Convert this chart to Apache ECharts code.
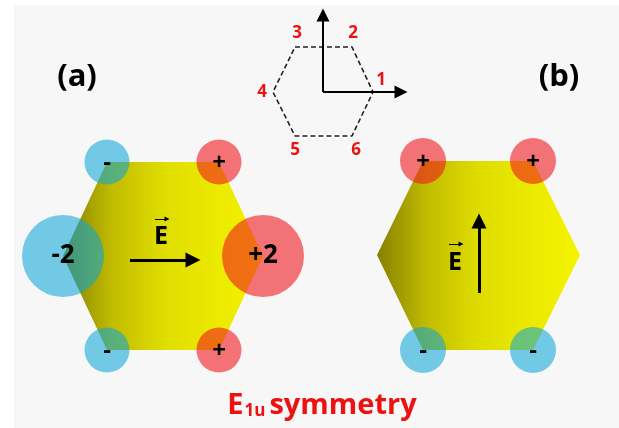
<!DOCTYPE html>
<html><head><meta charset="utf-8">
<script src="https://cdn.jsdelivr.net/npm/echarts@6/dist/echarts.min.js"></script>
<style>html,body{margin:0;padding:0;background:#fff}#c{width:619px;height:428px}</style>
</head><body><div id="c"></div>
<script>
// ---- data (diagram coordinates) ----
const hexA = [[107,162],[219,162],[263,256],[219,350],[107,350],[63,256]];
const hexB = [[423,161],[533,161],[580,255],[533,350],[423,350],[377,255]];
const hexagons = [hexA, hexB];

const refHex = [[295,47],[352,47],[373,92],[352,136],[295,136],[273,92],[295,47]];
const refLabels = ['1','2','3','4','5','6'];
const refLabelX = [381,353,297,262,295,356];
const refLabelY = [80,33,33,92,150,150];

const chargeX = [107,219,63,263,107,219,423,533,423,533];
const chargeY = [162,162,256,256,350,350,161,161,350,350];
const chargeR = [22.5,22.5,41,41,22.5,22.5,23,23,23,23];
const chargeText = ['-','+','-2','+2','-','+','+','+','-','-'];

const fieldFrom = [[130,260],[479,293]];
const fieldTo = [[193,260],[479,221]];
const axisFrom = [[323,92],[323,92]];
const axisTo = [[323,15],[401,92]];
const vecFrom = [[155,219],[449,244]];
const vecTo = [[167,219],[461,244]];

const fieldLabels = ['E','E'];
const fieldLabelX = [161,455];
const fieldLabelY = [237,263];

const panelLabels = ['(a)','(b)'];
const panelX = [77,559];
const panelY = [77,77];

const titleParts = ['E','1u','symmetry'];
const titleX = 322, titleY = 402;

const FONT = '"Open Sans", "Noto Sans", sans-serif';
const RED = '#ee1111';

const chart = echarts.init(document.getElementById('c'));
chart.setOption({
  backgroundColor: '#ffffff',
  animation: false,
  grid: {left: 14, top: 5, right: 0, bottom: 0, show: true, backgroundColor: '#f7f7f7', borderWidth: 0},
  xAxis: {type: 'value', min: 14, max: 619, show: false},
  yAxis: {type: 'value', min: 5, max: 428, inverse: true, show: false},
  series: [
    {
      type: 'custom', z: 1,
      data: hexagons.map(h => [h[0][0], h[0][1]]),
      renderItem: (params, api) => {
        const pts = hexagons[params.dataIndex].map(p => api.coord(p));
        return {type: 'polygon', shape: {points: pts},
          style: {fill: new echarts.graphic.LinearGradient(0,0,1,0,[
            {offset:0,color:'#858000'},{offset:0.25,color:'#c2bd00'},
            {offset:0.5,color:'#dfdc00'},{offset:0.75,color:'#ebe900'},{offset:1,color:'#f4f400'}])}};
      }
    },
    {
      type: 'line', z: 2, data: refHex, symbol: 'none', silent: true,
      lineStyle: {type: [5,3], width: 1.6, color: '#222'}
    },
    {
      type: 'custom', z: 3,
      data: chargeX.map((x,i) => [x, chargeY[i], chargeR[i]]),
      renderItem: (params, api) => {
        const c = api.coord([api.value(0), api.value(1)]);
        const r = api.size([api.value(2), 0])[0];
        const t = chargeText[params.dataIndex];
        const pos = t[0] === '+';
        const big = t.length > 1;
        return {type: 'group', children: [
          {type: 'circle', shape: {cx: c[0], cy: c[1], r: r},
            style: {fill: pos ? 'rgba(238,25,30,0.6)' : 'rgba(10,165,215,0.57)'}},
          {type: 'text', x: c[0], y: c[1] + (big ? 0 : 1), z2: 10,
            style: {text: t, fill: '#000', font: 'bold ' + (big ? 26 : 24) + 'px ' + FONT,
              align: 'center', verticalAlign: 'middle'}}
        ]};
      }
    },
    {
      type: 'lines', coordinateSystem: 'cartesian2d', z: 4, silent: true,
      symbol: ['none','triangle'], symbolSize: [13,15],
      lineStyle: {color: '#000', width: 3, opacity: 1},
      data: fieldFrom.map((f,i) => ({coords: [f, fieldTo[i]]}))
    },
    {
      type: 'lines', coordinateSystem: 'cartesian2d', z: 4, silent: true,
      symbol: ['none','triangle'], symbolSize: [11,13],
      lineStyle: {color: '#000', width: 2, opacity: 1},
      data: axisFrom.map((f,i) => ({coords: [f, axisTo[i]]}))
    },
    {
      type: 'lines', coordinateSystem: 'cartesian2d', z: 4, silent: true,
      symbol: ['none','triangle'], symbolSize: [4,5],
      lineStyle: {color: '#000', width: 1, opacity: 1},
      data: vecFrom.map((f,i) => ({coords: [f, vecTo[i]]}))
    },
    {
      type: 'custom', z: 5,
      data: refLabels.map((l,i) => [refLabelX[i], refLabelY[i]]),
      renderItem: (params, api) => {
        const c = api.coord([api.value(0), api.value(1)]);
        return {type: 'text', x: c[0], y: c[1], style: {text: refLabels[params.dataIndex], fill: RED,
          font: 'bold 17px ' + FONT, align: 'center', verticalAlign: 'middle'}};
      }
    },
    {
      type: 'custom', z: 5,
      data: fieldLabels.map((l,i) => [fieldLabelX[i], fieldLabelY[i]]),
      renderItem: (params, api) => {
        const c = api.coord([api.value(0), api.value(1)]);
        return {type: 'text', x: c[0], y: c[1], style: {text: fieldLabels[params.dataIndex], fill: '#000',
          font: 'bold 25px ' + FONT, align: 'center', verticalAlign: 'middle'}};
      }
    },
    {
      type: 'custom', z: 5,
      data: panelLabels.map((l,i) => [panelX[i], panelY[i]]),
      renderItem: (params, api) => {
        const c = api.coord([api.value(0), api.value(1)]);
        return {type: 'text', x: c[0], y: c[1], style: {text: panelLabels[params.dataIndex], fill: '#000',
          font: 'bold 31px ' + FONT, align: 'center', verticalAlign: 'middle'}};
      }
    },
    {
      type: 'custom', z: 5,
      data: [[titleX, titleY]],
      renderItem: (params, api) => {
        const c = api.coord([api.value(0), api.value(1)]);
        return {type: 'text', x: c[0], y: c[1], style: {
          text: '{e|' + titleParts[0] + '}{s|' + titleParts[1] + '}{e|' + titleParts[2] + '}',
          align: 'center', verticalAlign: 'middle',
          rich: {
            e: {fontSize: 29, fontWeight: 'bold', fontFamily: FONT, fill: RED, color: RED, lineHeight: 36, verticalAlign: 'bottom'},
            s: {fontSize: 17, fontWeight: 'bold', fontFamily: FONT, fill: RED, color: RED, lineHeight: 24, verticalAlign: 'bottom', padding: [0,4,0,1]}
          }}};
      }
    }
  ]
});
</script></body></html>
